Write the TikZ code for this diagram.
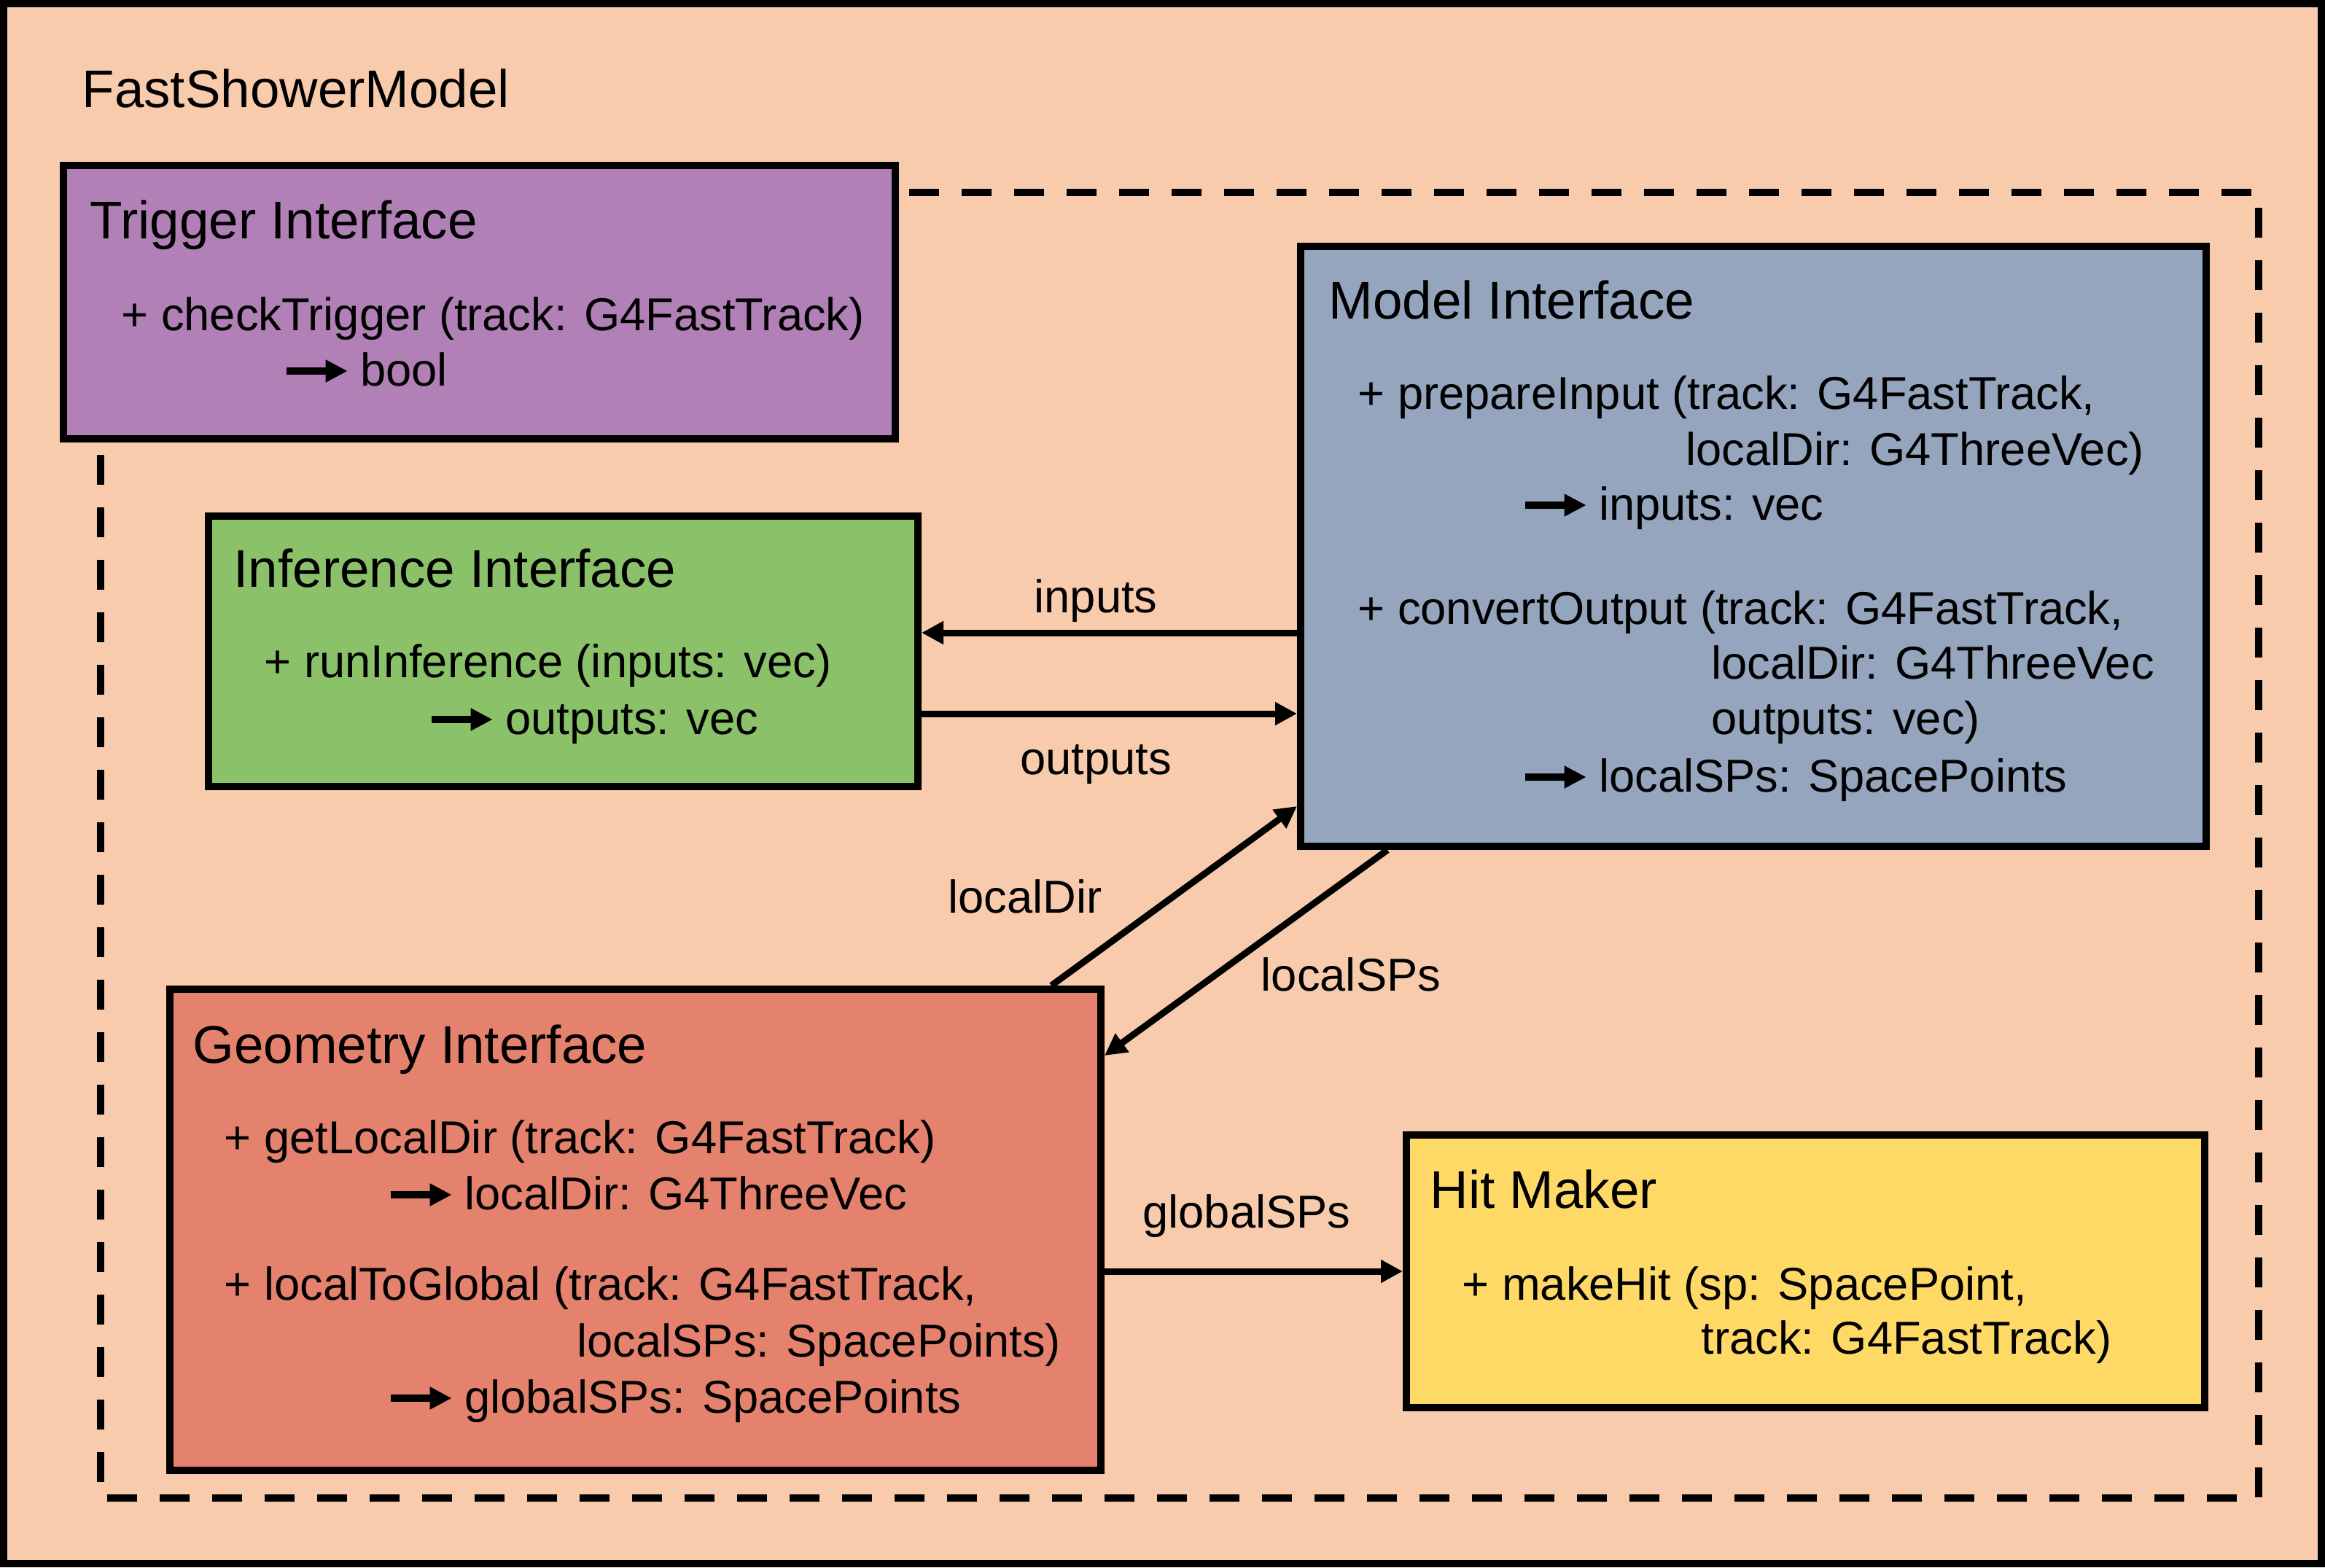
\documentclass[tikz,border=0pt]{standalone}
\usepackage{fontspec}
\setmainfont{Liberation Sans}
\usetikzlibrary{arrows.meta}

\definecolor{peach}{HTML}{F8CBAD}
\definecolor{trigfill}{HTML}{B080B6}
\definecolor{infrfill}{HTML}{8BC168}
\definecolor{modlfill}{HTML}{94A5BD}
\definecolor{geomfill}{HTML}{E5826E}
\definecolor{hitfill}{HTML}{FFD966}

\tikzset{
  box/.style={draw=black, line width=0.1cm},
  head/.style={anchor=base west, inner sep=0pt, font=\fontsize{20.7}{24}\selectfont},
  member/.style={anchor=base west, inner sep=0pt, font=\fontsize{18}{21.6}\selectfont},
  lbl/.style={anchor=base, inner sep=0pt, font=\fontsize{18}{21.6}\selectfont},
  flow/.style={line width=0.09cm, -{Triangle[length=0.3cm,width=0.3cm]}}
}
\newcommand{\retarrow}{\tikz[baseline={(0cm,-0.2cm)}, trim left=0cm, trim right=0.84cm]\draw[line width=0.1cm,-{Triangle[length=0.3cm,width=0.29cm]}] (0cm,0cm) -- (0.84cm,0cm);}

\begin{document}
\begin{tikzpicture}[y=-1cm]
    \useasboundingbox (0,0) rectangle (31.89,21.5);
    % outer frame and dashed group
    \draw[line width=0.1cm, fill=peach] (0.05,0.05) rectangle (31.84,21.45);
    \draw[line width=0.1cm, dash pattern=on 0.41cm off 0.31cm] (1.38,2.64) rectangle (30.98,20.55);
    \node[head] (fsm) at (1.12,1.47) {FastShowerModel};

    % boxes
    \node[box, fill=trigfill, minimum width=11.41cm, minimum height=3.75cm] (trigger) at (6.575,4.145) {};
    \node[box, fill=modlfill, minimum width=12.42cm, minimum height=8.23cm] (model) at (24.05,7.495) {};
    \node[box, fill=infrfill, minimum width=9.73cm, minimum height=3.71cm] (infer) at (7.725,8.935) {};
    \node[box, fill=geomfill, minimum width=12.77cm, minimum height=6.6cm] (geom) at (8.715,16.87) {};
    \node[box, fill=hitfill, minimum width=10.95cm, minimum height=3.74cm] (hit) at (24.765,17.44) {};

    % connectors
    \coordinate (yin) at (0,8.68);
    \coordinate (yout) at (0,9.79);
    \draw[flow] (model.west |- yin) -- (infer.east |- yin);
    \draw[flow] (infer.east |- yout) -- (model.west |- yout);
    \draw[flow] ([xshift=12.14cm]geom.north west) -- ([yshift=0.6cm]model.south west);
    \draw[flow] ([xshift=1.24cm]model.south west) -- ([yshift=-0.96cm]geom.north east);
    \draw[flow] (geom.east |- hit.west) -- (hit.west);
    \node[lbl] (lin) at (15.03,8.40) {inputs};
    \node[lbl] (lout) at (15.03,10.62) {outputs};
    \node[lbl] (ldir) at (14.06,12.52) {localDir};
    \node[lbl] (lsps) at (18.53,13.59) {localSPs};
    \node[lbl] (gsps) at (17.10,16.84) {globalSPs};

    % headers
    \foreach \x/\y/\z [count=\i] in {1.23/3.27/Trigger Interface, 18.22/4.37/Model Interface,
        3.20/8.05/Inference Interface, 2.64/14.58/Geometry Interface, 19.61/16.57/Hit Maker}
        \node[head] (h\i) at (\x,\y) {\z};

    % members
    \foreach \x/\y/\z [count=\i] in {
        1.66/4.53/{+ checkTrigger (track: G4FastTrack)},
        3.92/5.29/{\retarrow{} bool},
        18.62/5.61/{+ prepareInput (track: G4FastTrack,},
        23.12/6.38/{localDir: G4ThreeVec)},
        20.91/7.13/{\retarrow{} inputs: vec},
        18.62/8.56/{+ convertOutput (track: G4FastTrack,},
        23.47/9.31/{localDir: G4ThreeVec},
        23.47/10.07/{outputs: vec)},
        20.91/10.86/{\retarrow{} localSPs: SpacePoints},
        3.62/9.29/{+ runInference (inputs: vec)},
        5.91/10.07/{\retarrow{} outputs: vec},
        3.07/15.82/{+ getLocalDir (track: G4FastTrack)},
        5.35/16.59/{\retarrow{} localDir: G4ThreeVec},
        3.07/17.83/{+ localToGlobal (track: G4FastTrack,},
        7.91/18.61/{localSPs: SpacePoints)},
        5.35/19.38/{\retarrow{} globalSPs: SpacePoints},
        20.05/17.83/{+ makeHit (sp: SpacePoint,},
        23.33/18.57/{track: G4FastTrack)}}
        \node[member] (m\i) at (\x,\y) {\z};
\end{tikzpicture}
\end{document}
